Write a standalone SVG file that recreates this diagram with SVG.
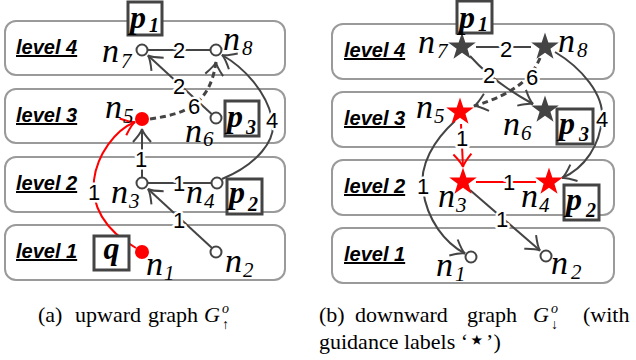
<svg xmlns="http://www.w3.org/2000/svg" width="636" height="360" viewBox="0 0 636 360">
<defs>
<style>
.lvl{fill:#fff;stroke:#9a9a9a;stroke-width:2}
.lt{font-family:"Liberation Sans",Arial,sans-serif;font-weight:bold;font-style:italic;font-size:20px;text-decoration:underline;fill:#000}
.e{fill:none;stroke:#444;stroke-width:2}
.er{fill:none;stroke:#f00;stroke-width:2}
.d{stroke-dasharray:6 4;stroke-width:3}
.w{font-family:"Liberation Sans",Arial,sans-serif;font-size:22px;text-anchor:middle;fill:#000;stroke:#fff;stroke-width:5;paint-order:stroke;stroke-linejoin:round}
.nl{font-family:"Liberation Serif","Times New Roman",serif;font-style:italic;font-size:34px;fill:#000}
.ns{font-family:"Liberation Serif","Times New Roman",serif;font-style:italic;font-size:21px;fill:#000}
.pb{fill:#fff;stroke:#444;stroke-width:3}
.pl{font-family:"Liberation Serif","Times New Roman",serif;font-style:italic;font-weight:bold;font-size:32px;fill:#000}
.ps{font-family:"Liberation Serif","Times New Roman",serif;font-style:italic;font-weight:bold;font-size:20px;fill:#000}
.c{fill:#fff;stroke:#444;stroke-width:2}
.cap{font-family:"Liberation Serif","Times New Roman",serif;font-size:22px;fill:#000}
.capi{font-family:"Liberation Serif","Times New Roman",serif;font-style:italic;font-size:22px;fill:#000}
.caps{font-family:"Liberation Serif","Times New Roman",serif;font-size:14px;fill:#000}
</style>
<marker id="ah" markerUnits="userSpaceOnUse" markerWidth="32" markerHeight="32" viewBox="-16 -16 32 32" refX="0" refY="0" orient="auto"><path d="M-13,-9 Q-4,-1 0,0 Q-4,1 -13,9" fill="none" stroke="#444" stroke-width="2"/></marker>
<marker id="ahr" markerUnits="userSpaceOnUse" markerWidth="32" markerHeight="32" viewBox="-16 -16 32 32" refX="0" refY="0" orient="auto"><path d="M-13,-9 Q-4,-1 0,0 Q-4,1 -13,9" fill="none" stroke="#f00" stroke-width="2"/></marker>
<path id="star" d="M0,-14.5 L3.35,-4.6 L13.8,-4.48 L5.42,1.76 L8.52,11.73 L0,5.7 L-8.52,11.73 L-5.42,1.76 L-13.8,-4.48 L-3.35,-4.6 Z"/>
</defs>

<g id="levels-a">
<rect class="lvl" x="5" y="21" width="280" height="54" rx="11"/>
<rect class="lvl" x="5" y="89" width="280" height="54" rx="11"/>
<rect class="lvl" x="5" y="157" width="280" height="55" rx="11"/>
<rect class="lvl" x="5" y="225" width="280" height="55" rx="11"/>
<text class="lt" x="16" y="54">level 4</text>
<text class="lt" x="16" y="122">level 3</text>
<text class="lt" x="16" y="190">level 2</text>
<text class="lt" x="16" y="258">level 1</text>
</g>
<g id="levels-b">
<rect class="lvl" x="332" y="24" width="282" height="55" rx="11"/>
<rect class="lvl" x="332" y="92" width="282" height="55" rx="11"/>
<rect class="lvl" x="332" y="160" width="282" height="55" rx="11"/>
<rect class="lvl" x="332" y="228" width="282" height="55" rx="11"/>
<text class="lt" x="344" y="57">level 4</text>
<text class="lt" x="344" y="125">level 3</text>
<text class="lt" x="344" y="193">level 2</text>
<text class="lt" x="344" y="261">level 1</text>
</g>

<g id="connectors">
<path class="e" d="M147.5,50 L210.5,50"/>
<path class="e" d="M211.6,114 L148,55.5" marker-end="url(#ah)"/>
<path class="e d" d="M150,119 C185,114 210,105 216,62" marker-end="url(#ah)"/>
<path class="e" d="M222,179 C256,165 278,140 272,118 C266,92 245,68 222,55" marker-end="url(#ah)"/>
<path class="e" d="M142,177.5 L142,129" marker-end="url(#ah)"/>
<path class="e" d="M147.5,183 L211.5,183"/>
<path class="e" d="M212,248 L148,189" marker-end="url(#ah)"/>
<path class="er" d="M136,248 C104,230 91,205 94,180 C97,155 115,130 135,122" marker-end="url(#ahr)"/>
<path class="e" d="M476,47 L531,47"/>
<path class="e" d="M470,56 Q493,82 533,104" marker-end="url(#ah)"/>
<path class="e d" d="M540,58 C533,75 518,93 474,106" marker-end="url(#ah)"/>
<path class="e" d="M555,52 C582,68 604,95 602,118 C600,145 585,168 562,178" marker-end="url(#ah)"/>
<path class="er" d="M461,124 L463,167" marker-end="url(#ahr)"/>
<path class="er" d="M476,182 L536,182"/>
<path class="e" d="M455,121 C434,140 419,165 423,190 C427,220 445,243 465,253.5" marker-end="url(#ah)"/>
<path class="e" d="M470,190 L540,250.5" marker-end="url(#ah)"/>
<text class="w" x="179" y="58">2</text>
<text class="w" x="179" y="94">2</text>
<text class="w" x="194" y="114">6</text>
<text class="w" x="272" y="128">4</text>
<text class="w" x="141" y="167">1</text>
<text class="w" x="179" y="191">1</text>
<text class="w" x="179" y="228">1</text>
<text class="w" x="94" y="200">1</text>
<text class="w" x="506" y="57">2</text>
<text class="w" x="489" y="83">2</text>
<text class="w" x="532" y="85">6</text>
<text class="w" x="602" y="127">4</text>
<text class="w" x="462" y="146">1</text>
<text class="w" x="509" y="190">1</text>
<text class="w" x="423" y="194">1</text>
<text class="w" x="502" y="227">1</text>
</g>

<g id="a-n7"><circle class="c" cx="142" cy="50" r="5.5"/><text class="nl" x="102" y="62">n</text><text class="ns" x="121" y="68">7</text></g>
<g id="a-n8"><circle class="c" cx="216" cy="50" r="5.5"/><text class="nl" x="223" y="50">n</text><text class="ns" x="242" y="55">8</text></g>
<g id="a-n5"><circle cx="142" cy="119" r="7" fill="#f00"/><text class="nl" x="105" y="118">n</text><text class="ns" x="123" y="123">5</text></g>
<g id="a-n6"><circle class="c" cx="216" cy="118" r="5.5"/><text class="nl" x="185" y="142">n</text><text class="ns" x="203" y="146">6</text></g>
<g id="a-n3"><circle class="c" cx="142" cy="183" r="5.5"/><text class="nl" x="111" y="203">n</text><text class="ns" x="129" y="208">3</text></g>
<g id="a-n4"><circle class="c" cx="217" cy="183" r="5.5"/><text class="nl" x="186" y="203">n</text><text class="ns" x="204" y="208">4</text></g>
<g id="a-n1"><circle cx="142" cy="252" r="7" fill="#f00"/><text class="nl" x="146" y="275">n</text><text class="ns" x="164" y="280">1</text></g>
<g id="a-n2"><circle class="c" cx="216" cy="252" r="5.5"/><text class="nl" x="225" y="272">n</text><text class="ns" x="243" y="277">2</text></g>
<g id="a-p1"><rect class="pb" x="128" y="2" width="34" height="33"/><text class="pl" x="130" y="28">p</text><text class="ps" x="149" y="32">1</text></g>
<g id="a-p3"><rect class="pb" x="225" y="101" width="34" height="35"/><text class="pl" x="227" y="127">p</text><text class="ps" x="246" y="134">3</text></g>
<g id="a-p2"><rect class="pb" x="227" y="179" width="35" height="35"/><text class="pl" x="229" y="203">p</text><text class="ps" x="248" y="211">2</text></g>
<g id="a-q"><rect class="pb" x="94" y="236" width="35" height="34"/><text class="pl" x="111.5" y="259" text-anchor="middle">q</text></g>

<g id="b-n7"><use href="#star" x="462" y="47" fill="#444"/><text class="nl" x="418" y="53">n</text><text class="ns" x="437" y="58">7</text></g>
<g id="b-n8"><use href="#star" x="545" y="47" fill="#444"/><text class="nl" x="558" y="52">n</text><text class="ns" x="577" y="57">8</text></g>
<g id="b-n5"><use href="#star" x="460" y="112" fill="#f00"/><text class="nl" x="416" y="118">n</text><text class="ns" x="434" y="123">5</text></g>
<g id="b-n6"><use href="#star" x="545" y="110" fill="#444"/><text class="nl" x="503" y="135">n</text><text class="ns" x="521" y="140">6</text></g>
<g id="b-n3"><use href="#star" x="463" y="182" fill="#f00"/><text class="nl" x="438" y="207">n</text><text class="ns" x="456" y="212">3</text></g>
<g id="b-n4"><use href="#star" x="549" y="182" fill="#f00"/><text class="nl" x="521" y="207">n</text><text class="ns" x="539" y="212">4</text></g>
<g id="b-n1"><circle class="c" cx="471" cy="257" r="5.5"/><text class="nl" x="436" y="276">n</text><text class="ns" x="455" y="281">1</text></g>
<g id="b-n2"><circle class="c" cx="546" cy="256" r="5.5"/><text class="nl" x="551" y="274">n</text><text class="ns" x="571" y="279">2</text></g>
<g id="b-p1"><rect class="pb" x="457" y="1" width="35" height="32"/><text class="pl" x="459" y="28">p</text><text class="ps" x="478" y="31">1</text></g>
<g id="b-p3"><rect class="pb" x="557" y="109" width="36" height="35"/><text class="pl" x="559" y="134">p</text><text class="ps" x="579" y="141">3</text></g>
<g id="b-p2"><rect class="pb" x="564" y="185" width="35" height="35"/><text class="pl" x="566" y="210">p</text><text class="ps" x="586" y="217">2</text></g>

<g id="captions">
<text class="cap" x="38" y="322">(a)</text>
<text class="cap" x="75" y="322">upward</text>
<text class="cap" x="148" y="322">graph</text>
<text class="capi" x="204" y="322">G</text>
<text class="caps" x="222" y="313" font-style="italic">o</text>
<text class="caps" x="222" y="329">↑</text>
<text class="cap" x="319" y="322">(b)</text>
<text class="cap" x="355" y="322">downward</text>
<text class="cap" x="467" y="322">graph</text>
<text class="capi" x="533" y="322">G</text>
<text class="caps" x="551" y="313" font-style="italic">o</text>
<text class="caps" x="551" y="329">↓</text>
<text class="cap" x="583" y="322">(with</text>
<text class="cap" x="319" y="349">guidance labels ‘<tspan font-size="28px">⋆</tspan>’)</text>
</g>
</svg>
